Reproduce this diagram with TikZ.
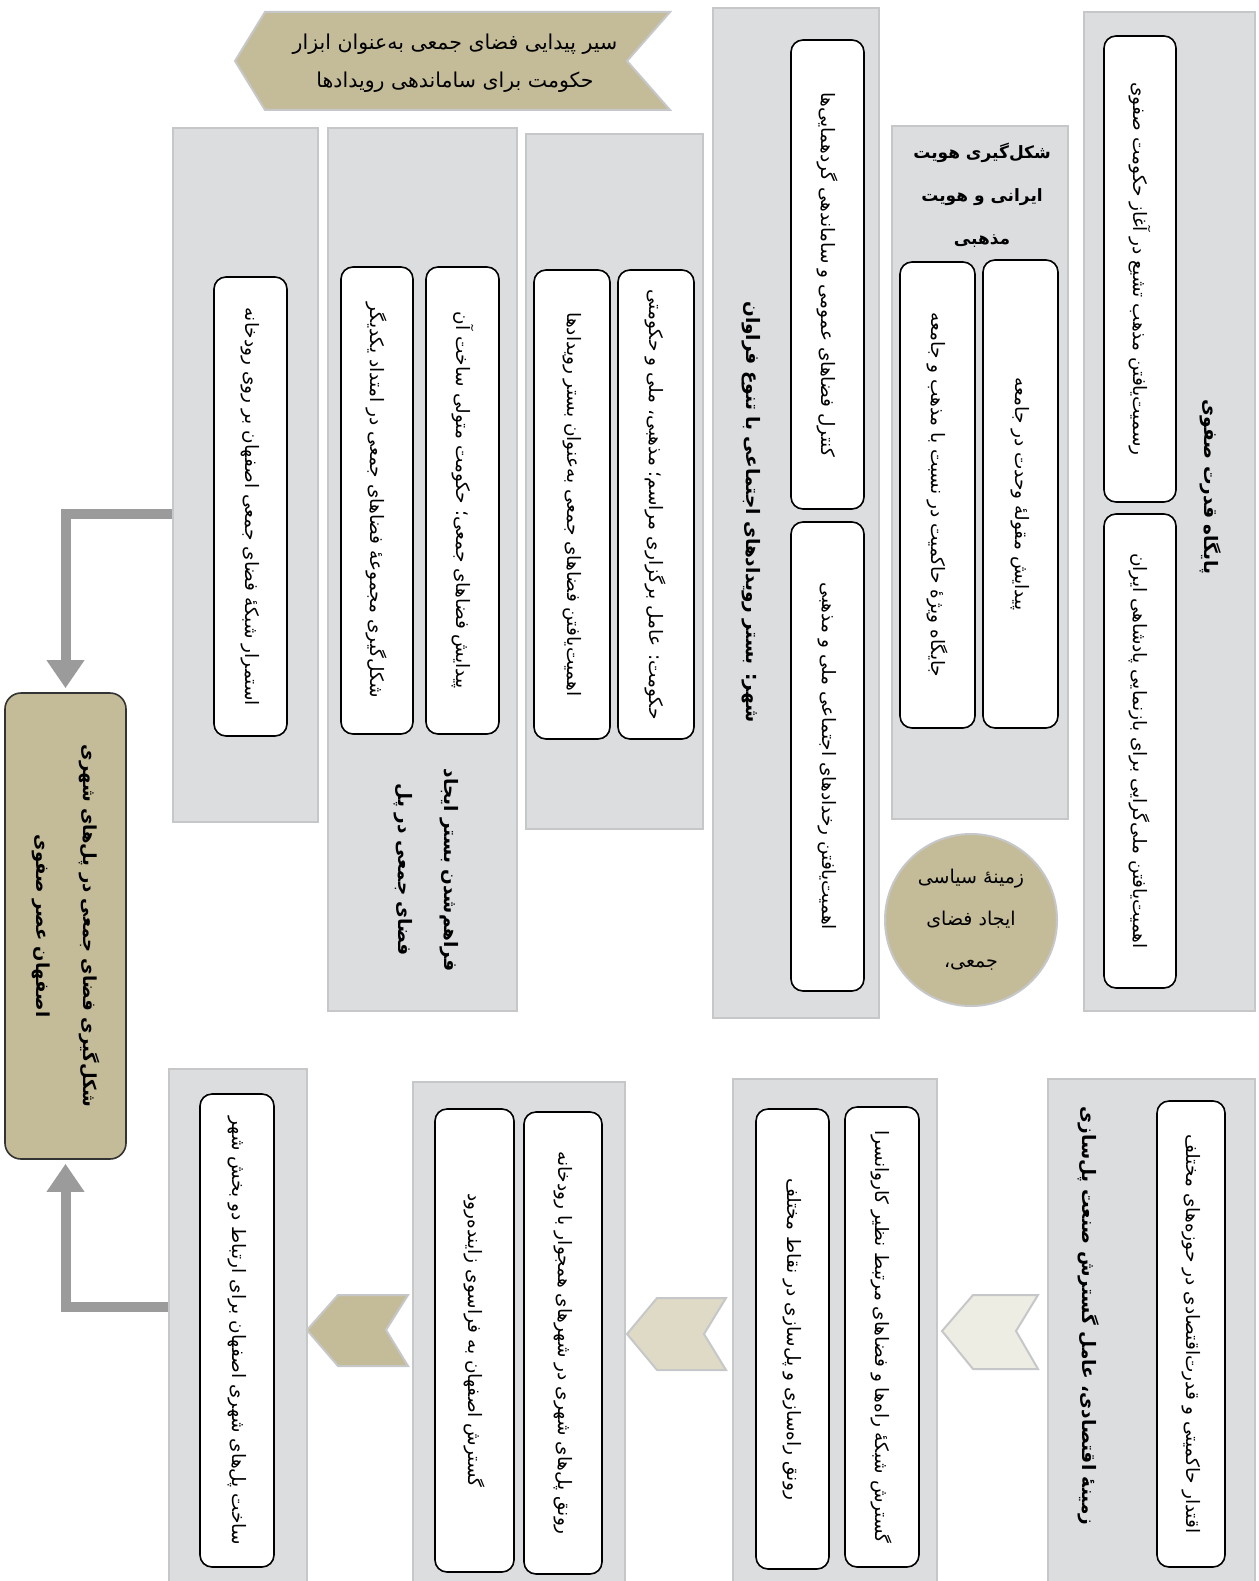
\documentclass[tikz,border=0pt]{standalone}
\usepackage{fontspec}
\usetikzlibrary{arrows.meta}
\TeXXeTstate=1
\newfontfamily\pfont[Script=Arabic]{DejaVu Sans}
\newcommand\RL[1]{\beginR #1\endR}
\definecolor{colfill}{HTML}{DCDDDF}
\definecolor{colline}{HTML}{C6C7C9}
\definecolor{tan}{HTML}{C4BC99}
\definecolor{tanlight}{HTML}{DEDAC6}
\definecolor{tanpale}{HTML}{EEEDE4}
\definecolor{arrowgray}{HTML}{9B9B9B}
\tikzset{
  colbox/.style={rectangle, fill=colfill, draw=colline, line width=2.5pt, inner sep=0pt},
  itembox/.style={rectangle, rounded corners=12pt, fill=white, draw=black, line width=1.6pt, inner sep=0pt,
    font=\pfont\fontsize{18.5}{22}\selectfont, align=center},
  ttl/.style={font=\pfont\bfseries\fontsize{18.5}{44}\selectfont, align=center, inner sep=0pt},
  conn/.style={draw=arrowgray, line width=10pt, -{Triangle[width=36pt,length=28pt]}, shorten >=4pt},
  chev/.style={draw=colline, line width=2pt},
}
\newcommand\colnode[5]{%
  \pgfmathsetmacro\cx{(#2+#4)/2}\pgfmathsetmacro\cy{(#3+#5)/2}%
  \pgfmathsetmacro\ww{#4-#2}\pgfmathsetmacro\hh{#5-#3}%
  \node[colbox, minimum width=\ww pt, minimum height=\hh pt] (#1) at (\cx,\cy) {};}
\newcommand\itemnode[7][]{%
  \pgfmathsetmacro\cx{(#3+#5)/2}\pgfmathsetmacro\cy{(#4+#6)/2}%
  \pgfmathsetmacro\ww{#5-#3}\pgfmathsetmacro\hh{#6-#4}%
  \node[itembox, rotate=-90, minimum width=\hh pt, minimum height=\ww pt, #1] (#2) at (\cx,\cy) {\RL{#7}};}
\begin{document}
\begin{tikzpicture}[x=1pt,y=-1pt]
\useasboundingbox (0,0) rectangle (1258,1581);

% ---------- top banner ----------
\filldraw[fill=tan, draw=colline, line width=2pt] (265,12) -- (670,12) -- (627,61) -- (670,110) -- (265,110) -- (235,61) -- cycle;
\node[font=\pfont\fontsize{20.5}{38}\selectfont, align=center] (banner) at (455,63)
  {\RL{سیر پیدایی فضای جمعی به‌عنوان ابزار}\\\RL{حکومت برای ساماندهی رویدادها}};

% ---------- column A ----------
\colnode{colA}{1084}{12}{1255}{1011}
\itemnode{a1}{1104}{36}{1176}{502}{رسمیت‌یافتن مذهب تشیع در آغاز حکومت صفوی}
\itemnode{a2}{1104}{514}{1176}{988}{اهمیت‌یافتن ملی‌گرایی برای بازنمایی پادشاهی ایران}
\node[ttl, rotate=-90] (ta) at (1211,487) {\RL{پایگاه قدرت صفوی}};

% ---------- column B ----------
\colnode{colB}{892}{126}{1068}{819}
\node[ttl, font=\pfont\bfseries\fontsize{17}{43}\selectfont] (tb) at (982,195)
  {\RL{شکل‌گیری هویت}\\\RL{ایرانی و هویت}\\\RL{مذهبی}};
\itemnode{b1}{983}{260}{1058}{728}{پیدایش مقولهٔ وحدت در جامعه}
\itemnode{b2}{900}{262}{975}{728}{جایگاه ویژهٔ حاکمیت در نسبت با مذهب و جامعه}

% ---------- circle ----------
\node[circle, fill=tan, draw=colline, line width=2pt, minimum size=172pt, inner sep=0pt,
  font=\pfont\fontsize{19}{42}\selectfont, align=center] (circ) at (971,920)
  {\RL{زمینهٔ سیاسی}\\\RL{ایجاد فضای}\\\RL{جمعی،}};

% ---------- column C ----------
\colnode{colC}{713}{8}{879}{1018}
\itemnode{c1}{791}{40}{864}{509}{کنترل فضاهای عمومی و ساماندهی گردهمایی‌ها}
\itemnode{c2}{791}{522}{864}{991}{اهمیت‌یافتن رخدادهای اجتماعی ملی و مذهبی}
\node[ttl, rotate=-90] (tc) at (751,512) {\RL{شهر: بستر رویدادهای اجتماعی با تنوع فراوان}};

% ---------- column D ----------
\colnode{colD}{526}{134}{703}{829}
\itemnode{d1}{618}{270}{694}{739}{حکومت: عامل برگزاری مراسم؛ مذهبی، ملی و حکومتی}
\itemnode{d2}{534}{270}{610}{739}{اهمیت‌یافتن فضاهای جمعی به‌عنوان بستر رویدادها}

% ---------- column E ----------
\colnode{colE}{328}{128}{517}{1011}
\itemnode{e1}{426}{267}{499}{734}{پیدایش فضاهای جمعی؛ حکومت متولی ساخت آن}
\itemnode{e2}{341}{267}{413}{734}{شکل‌گیری مجموعهٔ فضاهای جمعی در امتداد یکدیگر}
\node[ttl, rotate=-90, font=\pfont\bfseries\fontsize{18.5}{46}\selectfont] (te) at (426,870)
  {\RL{فراهم‌شدن بستر ایجاد}\\\RL{فضای جمعی در پل}};

% ---------- column F ----------
\colnode{colF}{173}{128}{318}{822}
\itemnode{f1}{214}{277}{287}{736}{استمرار شبکهٔ فضای جمعی اصفهان بر روی رودخانه}

% ---------- central node ----------
\node[rectangle, rounded corners=16pt, fill=tan, draw=black!80, line width=1.6pt, rotate=-90,
  minimum width=466pt, minimum height=121pt, inner sep=0pt,
  font=\pfont\bfseries\fontsize{18}{47}\selectfont, align=center] (cen) at (65.5,926)
  {\RL{شکل‌گیری فضای جمعی در پل‌های شهری}\\\RL{اصفهان عصر صفوی}};

% ---------- bottom row ----------
\colnode{colG}{1048}{1079}{1255}{1600}
\itemnode{g1}{1157}{1101}{1225}{1567}{اقتدار حاکمیتی و قدرت‌اقتصادی در حوزه‌های مختلف}
\node[ttl, rotate=-90] (tg) at (1089,1316) {\RL{زمینهٔ اقتصادی، عامل گسترش صنعت پل‌سازی}};

\colnode{colH}{733}{1079}{937}{1600}
\itemnode{h1}{845}{1107}{919}{1567}{گسترش شبکهٔ راه‌ها و فضاهای مرتبط نظیر کاروانسرا}
\itemnode{h2}{756}{1109}{829}{1569}{رونق راه‌سازی و پل‌سازی در نقاط مختلف}

\colnode{colI}{413}{1082}{625}{1600}
\itemnode{i1}{524}{1112}{602}{1574}{رونق پل‌های شهری در شهرهای همجوار با رودخانه}
\itemnode{i2}{435}{1109}{514}{1572}{گسترش اصفهان به فراسوی زاینده‌رود}

\colnode{colJ}{169}{1069}{307}{1600}
\itemnode{j1}{200}{1094}{274}{1567}{ساخت پل‌های شهری اصفهان برای ارتباط دو بخش شهر}

% ---------- chevrons ----------
\filldraw[chev, fill=tanpale] (942,1331) -- (973,1295) -- (1038,1295) -- (1016,1331) -- (1038,1369) -- (973,1369) -- cycle;
\filldraw[chev, fill=tanlight] (627,1334) -- (657,1298) -- (726,1298) -- (704,1334) -- (726,1370) -- (657,1370) -- cycle;
\filldraw[chev, fill=tan] (307,1330) -- (338,1295) -- (408,1295) -- (386,1330) -- (408,1366) -- (338,1366) -- cycle;

% ---------- connectors to central node (cen is rotated: west = top, east = bottom) ----------
\coordinate (ya) at (0,514);
\coordinate (yb) at (0,1307);
\draw[conn] (colF.west |- ya) -| (cen.west);
\draw[conn] (colJ.west |- yb) -| (cen.east);
\end{tikzpicture}
\end{document}
